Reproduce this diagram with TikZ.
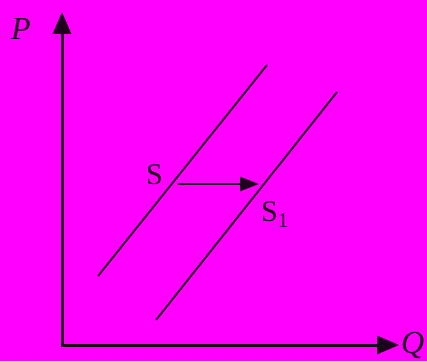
\documentclass[tikz,border=0pt]{standalone}
\usepackage{fontspec}
\setmainfont{Liberation Serif}
\usetikzlibrary{arrows.meta}
\definecolor{bg}{RGB}{255,0,255}
\definecolor{ink}{RGB}{30,0,30}
\begin{document}
\begin{tikzpicture}[x=1pt,y=1pt,
  axisline/.style={draw=ink,line width=3pt,-{Triangle[length=22pt,width=18pt]}},
  curve/.style={draw=ink,line width=1.8pt},
  shiftarrow/.style={draw=ink,line width=2.6pt,-{Triangle[length=19pt,width=14pt]}},
  lbl/.style={text=ink,inner sep=0pt}]
\fill[bg] (0,0) rectangle (427,361);
\useasboundingbox (0,0) rectangle (427,361);
\coordinate (O) at (62,16);
\coordinate (Ptop) at (62,349);
\coordinate (Qend) at (399,16);
\coordinate (Sa) at (98,85);
\coordinate (Sb) at (267,296);
\coordinate (S1a) at (156,41);
\coordinate (S1b) at (337,269);
\coordinate (Afrom) at (178,177);
\coordinate (Ato) at (259,177);
\draw[axisline] (O) -- (Ptop);
\draw[axisline] ([xshift=-1.5pt]O) -- (Qend);
\draw[curve] (Sa) -- (Sb);
\draw[curve] (S1a) -- (S1b);
\draw[shiftarrow] (Afrom) -- (Ato);
\node[lbl,font=\fontsize{32}{34}\selectfont\itshape,anchor=base west] (P) at (11,321) {P};
\node[lbl,font=\fontsize{32}{34}\selectfont\itshape,anchor=base west] (Q) at (401,8) {Q};
\node[lbl,font=\fontsize{30}{32}\selectfont,anchor=base west] (S) at (146,176) {S};
\node[lbl,font=\fontsize{30}{32}\selectfont,anchor=base west] (S1) at (261,139) {S\textsubscript{1}};
\end{tikzpicture}
\end{document}
